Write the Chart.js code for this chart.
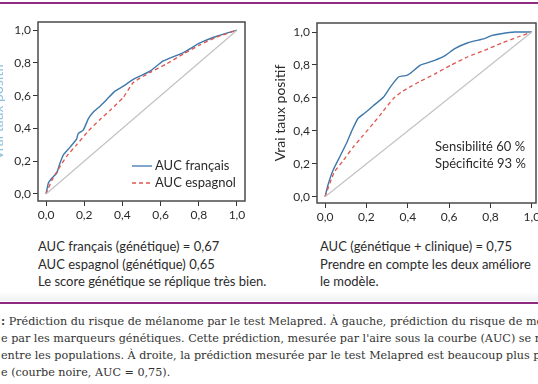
<!DOCTYPE html>
<html lang="fr">
<head>
<meta charset="utf-8">
<script src="https://cdn.jsdelivr.net/npm/chart.js@4/dist/chart.umd.min.js"></script>
<style>
  html, body { margin: 0; padding: 0; background: #fff; }
  body { width: 538px; height: 384px; position: relative; overflow: hidden; }
  .box { position: absolute; }
  .rule { position: absolute; left: 0; width: 538px; height: 2px; background: #8e2a82; }
  .band { position: absolute; left: 0; width: 538px; height: 9px; top: 292px;
          background: linear-gradient(#ffffff, #eef0f3); }
  .note { position: absolute; font-family: Lato, "Noto Sans", sans-serif; font-size: 13px;
          color: #2b2b2b; line-height: 17.5px; white-space: nowrap; }
  .caption { position: absolute; left: 1px; font-family: "DejaVu Serif", serif; font-size: 11.18px;
             color: #333; white-space: nowrap; line-height: 17px; }
</style>
</head>
<body>

<div class="rule" style="top:2px"></div>

<div class="box" style="left:-14px; top:0; width:264px; height:225px"><canvas id="left"></canvas></div>
<div class="box" style="left:268px; top:0; width:270px; height:230px"><canvas id="right"></canvas></div>

<div class="note" style="left:38px; top:238px">AUC français (génétique) = 0,67<br>AUC espagnol (génétique) 0,65<br>Le score génétique se réplique très bien.</div>
<div class="note" style="left:320px; top:238px">AUC (génétique + clinique) = 0,75<br>Prendre en compte les deux améliore<br>le modèle.</div>

<div class="band"></div>
<div class="rule" style="top:302px"></div>

<div class="caption" style="top:313px"><b>:</b> Prédiction du risque de mélanome par le test Melapred. À gauche, prédiction du risque de mélanome</div>
<div class="caption" style="top:330px">e par les marqueurs génétiques. Cette prédiction, mesurée par l'aire sous la courbe (AUC) se réplique bien</div>
<div class="caption" style="top:347px">entre les populations. À droite, la prédiction mesurée par le test Melapred est beaucoup plus performante</div>
<div class="caption" style="top:364px">e (courbe noire, AUC = 0,75).</div>

<script>
// axes
var tickValues = [0, 0.2, 0.4, 0.6, 0.8, 1.0];
var tickLabels = ['0,0', '0,2', '0,4', '0,6', '0,8', '1,0'];
var diagX = [0, 1];
var diagY = [0, 1];

// gauche : score génétique, français vs espagnol
var frFpr = [0, 0.012, 0.03, 0.056, 0.073, 0.091, 0.126, 0.16, 0.169, 0.195, 0.222, 0.248, 0.283, 0.318, 0.361, 0.405, 0.457, 0.545, 0.614, 0.719, 0.806, 0.894, 1];
var frTpr = [0, 0.066, 0.096, 0.127, 0.188, 0.239, 0.286, 0.335, 0.37, 0.39, 0.46, 0.5, 0.536, 0.577, 0.628, 0.658, 0.699, 0.75, 0.812, 0.863, 0.922, 0.963, 1];
var esFpr = [0, 0.012, 0.038, 0.064, 0.108, 0.16, 0.222, 0.283, 0.335, 0.405, 0.457, 0.545, 0.632, 0.719, 0.806, 0.894, 1];
var esTpr = [0, 0.035, 0.1, 0.15, 0.23, 0.3, 0.385, 0.455, 0.51, 0.59, 0.68, 0.742, 0.795, 0.855, 0.91, 0.958, 1];

// droite : génétique + clinique vs génétique seule
var gcFpr = [0, 0.014, 0.039, 0.071, 0.103, 0.127, 0.159, 0.192, 0.233, 0.283, 0.316, 0.355, 0.395, 0.411, 0.459, 0.482, 0.53, 0.578, 0.627, 0.691, 0.771, 0.804, 0.852, 0.917, 1];
var gcTpr = [0, 0.071, 0.162, 0.242, 0.323, 0.394, 0.475, 0.508, 0.552, 0.606, 0.667, 0.727, 0.737, 0.748, 0.798, 0.808, 0.828, 0.855, 0.899, 0.935, 0.96, 0.978, 0.99, 1.0, 1];
var geFpr = [0, 0.043, 0.089, 0.137, 0.185, 0.233, 0.274, 0.33, 0.369, 0.411, 0.459, 0.53, 0.61, 0.691, 0.771, 0.852, 0.932, 1];
var geTpr = [0, 0.146, 0.222, 0.303, 0.374, 0.445, 0.508, 0.596, 0.636, 0.667, 0.7, 0.745, 0.8, 0.85, 0.889, 0.932, 0.97, 1];

var legendLabels = ['AUC français', 'AUC espagnol'];
var noteLines = ['Sensibilité 60 %', 'Spécificité 93 %'];

var BLUE = '#3f78ab';
var RED = '#e0554e';
var GREY = '#c4c4c4';
var INK = '#2b2b2b';

function pts(xs, ys) {
    var out = [];
    for (var i = 0; i < xs.length; i++) out.push({x: xs[i], y: ys[i]});
    return out;
}

// cadre complet autour de la zone du graphique
var framePlugin = {
    id: 'frame',
    afterDraw: function(chart) {
        var a = chart.chartArea, ctx = chart.ctx;
        ctx.save();
        ctx.strokeStyle = '#4a4a4a';
        ctx.lineWidth = 1.5;
        ctx.strokeRect(a.left, a.top, a.right - a.left, a.bottom - a.top);
        ctx.restore();
    }
};

// légende et annotations dessinées dans la zone du graphique
var textPlugin = {
    id: 'texts',
    afterDraw: function(chart, args, opts) {
        var ctx = chart.ctx, a = chart.chartArea;
        ctx.save();
        ctx.font = '13px Lato, "Noto Sans", sans-serif';
        ctx.fillStyle = INK;
        ctx.textBaseline = 'middle';
        if (opts.legend) {
            var x0 = a.left + 94, y0 = a.bottom - 35;
            for (var i = 0; i < legendLabels.length; i++) {
                var y = y0 + i * 17;
                ctx.strokeStyle = i === 0 ? BLUE : RED;
                ctx.lineWidth = 1.3;
                ctx.setLineDash(i === 0 ? [] : [4, 3]);
                ctx.beginPath();
                ctx.moveTo(x0, y);
                ctx.lineTo(x0 + 20, y);
                ctx.stroke();
                ctx.fillText(legendLabels[i], x0 + 23, y);
            }
        }
        if (opts.note) {
            for (var j = 0; j < noteLines.length; j++) {
                ctx.fillText(noteLines[j], a.left + 118, a.bottom - 56 + j * 17);
            }
        }
        ctx.restore();
    }
};

function makeChart(id, sets, cfg) {
    var tickFont = {family: 'Lato, "Noto Sans", sans-serif', size: 12};
    return new Chart(document.getElementById(id), {
        type: 'scatter',
        data: {datasets: sets},
        plugins: [framePlugin, textPlugin],
        options: {
            responsive: true,
            maintainAspectRatio: false,
            animation: false,
            layout: {padding: {top: cfg.top, right: cfg.right, left: 0, bottom: 0}},
            plugins: {
                legend: {display: false},
                tooltip: {enabled: false},
                texts: {legend: cfg.legend, note: cfg.note}
            },
            scales: {
                x: {
                    type: 'linear', min: cfg.xmin, max: cfg.xmax,
                    afterBuildTicks: function(s) { s.ticks = tickValues.map(function(v) { return {value: v}; }); },
                    afterFit: function(s) { s.height = cfg.xh; s.paddingLeft = 0; s.paddingRight = 0; },
                    border: {display: false},
                    grid: {drawOnChartArea: false, drawTicks: true, tickLength: 5, tickColor: '#333', tickWidth: 1},
                    ticks: {
                        padding: 2, color: INK, font: tickFont, maxRotation: 0, autoSkip: false,
                        callback: function(v, i) { return tickLabels[i]; }
                    }
                },
                y: {
                    type: 'linear', min: cfg.ymin, max: cfg.ymax,
                    afterBuildTicks: function(s) { s.ticks = tickValues.map(function(v) { return {value: v}; }); },
                    afterFit: function(s) { s.width = cfg.yw; s.paddingTop = 0; s.paddingBottom = 0; },
                    border: {display: false},
                    grid: {drawOnChartArea: false, drawTicks: true, tickLength: 5, tickColor: '#333', tickWidth: 1},
                    ticks: {
                        padding: 2, color: INK, font: tickFont, autoSkip: false,
                        callback: function(v, i) { return tickLabels[i]; }
                    },
                    title: {
                        display: true, text: 'Vrai taux positif', color: cfg.titleColor,
                        font: {family: 'Lato, "Noto Sans", sans-serif', size: 14},
                        padding: {top: 4, bottom: 0}
                    }
                }
            }
        }
    });
}

function lineSet(data, color, dash, width) {
    return {
        data: data, showLine: true, borderColor: color, borderWidth: width,
        borderDash: dash, pointRadius: 0, fill: false, tension: 0.15
    };
}

makeChart('left', [
    lineSet(pts(diagX, diagY), GREY, [], 1.3),
    lineSet(pts(esFpr, esTpr), RED, [4, 3], 1.3),
    lineSet(pts(frFpr, frTpr), BLUE, [], 1.4)
], {top: 22, right: 5, xh: 24, yw: 52, xmin: -0.042, xmax: 1.042, ymin: -0.043, ymax: 1.05,
    legend: true, note: false, titleColor: '#8fc0de'});

makeChart('right', [
    lineSet(pts(diagX, diagY), GREY, [], 1.3),
    lineSet(pts(geFpr, geTpr), RED, [4, 3], 1.3),
    lineSet(pts(gcFpr, gcTpr), BLUE, [], 1.4)
], {top: 23, right: 2, xh: 27, yw: 49, xmin: -0.039, xmax: 1.02, ymin: -0.038, ymax: 1.055,
    legend: false, note: true, titleColor: INK});
</script>
</body>
</html>
